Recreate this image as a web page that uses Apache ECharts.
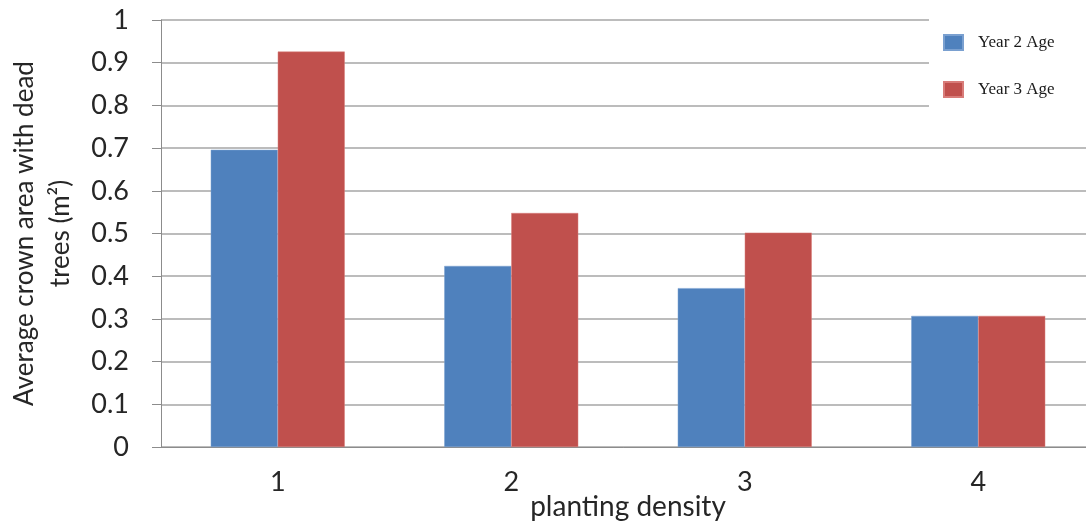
<!DOCTYPE html>
<html>
<head>
<meta charset="utf-8">
<script src="https://cdn.jsdelivr.net/npm/echarts@6/dist/echarts.min.js"></script>
<style>html,body{margin:0;padding:0;background:#fff}#c{width:1086px;height:525px}</style>
</head>
<body>
<div id="c"></div>
<script>
const categories = ['1', '2', '3', '4'];
const year2Age = [0.696, 0.424, 0.372, 0.307];
const year3Age = [0.926, 0.548, 0.502, 0.307];
const seriesNames = ['Year 2 Age', 'Year 3 Age'];
const yTitle = 'Average crown area with dead\ntrees (m\u00B2)';
const xTitle = 'planting density';

const chart = echarts.init(document.getElementById('c'), null, {renderer: 'canvas'});
const sans = 'Lato, "Open Sans", sans-serif';
chart.setOption({
  animation: false,
  backgroundColor: '#fff',
  grid: {left: 161, top: 20, width: 934, height: 427, containLabel: false, outerBoundsMode: 'none'},
  legend: {
    orient: 'vertical',
    left: 929, top: 10,
    padding: [24, 40, 25, 14],
    backgroundColor: '#fff',
    itemWidth: 19, itemHeight: 15, itemGap: 30,
    icon: 'rect',
    textStyle: {fontFamily: '"Liberation Serif", "Times New Roman", serif', fontSize: 17, color: '#1a1a1a', padding: [0, 0, 0, 10]},
    data: seriesNames
  },
  xAxis: {
    type: 'category',
    data: categories,
    name: xTitle,
    nameLocation: 'middle',
    nameGap: 46,
    nameMoveOverlap: false,
    nameTextStyle: {fontFamily: sans, fontSize: 28, color: '#262626'},
    axisLine: {lineStyle: {color: '#8c8c8c', width: 1}},
    axisTick: {length: 9, lineStyle: {color: '#8c8c8c'}},
    axisLabel: {fontFamily: sans, fontSize: 27, color: '#262626', margin: 22}
  },
  yAxis: {
    type: 'value',
    min: 0, max: 1, interval: 0.1,
    name: yTitle,
    nameLocation: 'middle',
    nameGap: 82,
    nameMoveOverlap: false,
    nameTextStyle: {fontFamily: sans, fontSize: 26, color: '#262626', lineHeight: 36, align: 'center'},
    axisLine: {show: true, lineStyle: {color: '#8c8c8c', width: 1}},
    axisTick: {show: true, length: 9, lineStyle: {color: '#8c8c8c'}},
    splitLine: {lineStyle: {color: '#a6a6a6', width: 1.5}},
    axisLabel: {fontFamily: sans, fontSize: 27, color: '#262626', margin: 32}
  },
  series: [
    {name: seriesNames[0], type: 'bar', data: year2Age, barWidth: 67, barGap: '0%',
     itemStyle: {color: '#4F81BD', borderColor: '#7aa0d0', borderWidth: 0.5}},
    {name: seriesNames[1], type: 'bar', data: year3Age, barWidth: 67, barGap: '0%',
     itemStyle: {color: '#C0504D', borderColor: '#d87c79', borderWidth: 0.5}}
  ]
});
</script>
</body>
</html>
